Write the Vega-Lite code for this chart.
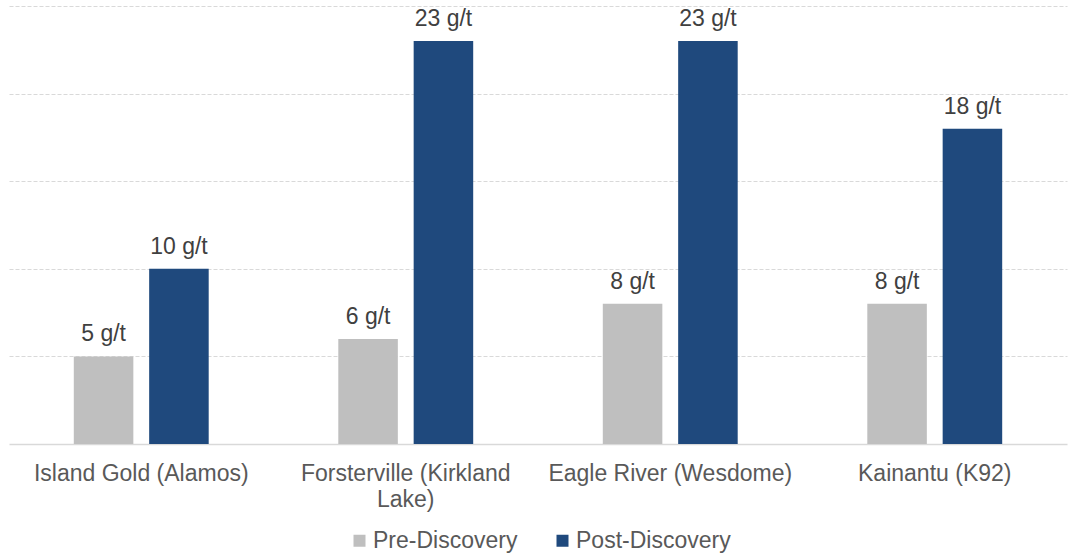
{
  "$schema": "https://vega.github.io/schema/vega-lite/v6.json",
  "width": 1058,
  "height": 438,
  "autosize": {"type": "none"},
  "padding": {"left": 9, "top": 6, "right": 3, "bottom": 111},
  "background": "white",
  "config": {
    "view": {"stroke": null},
    "font": "Liberation Sans",
    "text": {"font": "Liberation Sans"}
  },
  "data": {
    "values": [
      {"mine": "Island Gold (Alamos)", "stage": "Pre-Discovery", "grade": 5, "label": "5 g/t"},
      {"mine": "Island Gold (Alamos)", "stage": "Post-Discovery", "grade": 10, "label": "10 g/t"},
      {"mine": "Forsterville (Kirkland Lake)", "stage": "Pre-Discovery", "grade": 6, "label": "6 g/t"},
      {"mine": "Forsterville (Kirkland Lake)", "stage": "Post-Discovery", "grade": 23, "label": "23 g/t"},
      {"mine": "Eagle River (Wesdome)", "stage": "Pre-Discovery", "grade": 8, "label": "8 g/t"},
      {"mine": "Eagle River (Wesdome)", "stage": "Post-Discovery", "grade": 23, "label": "23 g/t"},
      {"mine": "Kainantu (K92)", "stage": "Pre-Discovery", "grade": 8, "label": "8 g/t"},
      {"mine": "Kainantu (K92)", "stage": "Post-Discovery", "grade": 18, "label": "18 g/t"}
    ]
  },
  "encoding": {
    "x": {
      "field": "mine",
      "type": "nominal",
      "sort": null,
      "scale": {"paddingInner": 0.49, "paddingOuter": 0.245},
      "axis": {
        "title": null,
        "labelAngle": 0,
        "labelFontSize": 23,
        "labelColor": "#595959",
        "labelPadding": 18,
        "labelLineHeight": 26,
        "labelLimit": 400,
        "ticks": false,
        "domainColor": "#d9d9d9",
        "domainWidth": 1.5,
        "labelExpr": "datum.label == 'Forsterville (Kirkland Lake)' ? ['Forsterville (Kirkland', 'Lake)'] : datum.label"
      }
    },
    "xOffset": {
      "field": "stage",
      "type": "nominal",
      "sort": ["Pre-Discovery", "Post-Discovery"],
      "scale": {"paddingInner": 0.21, "paddingOuter": 0}
    },
    "y": {
      "field": "grade",
      "type": "quantitative",
      "scale": {"domain": [0, 25], "nice": false},
      "axis": {
        "title": null,
        "labels": false,
        "ticks": false,
        "domain": false,
        "values": [5, 10, 15, 20, 25],
        "gridColor": "#d9d9d9",
        "gridDash": [4, 2],
        "gridWidth": 1
      }
    }
  },
  "layer": [
    {
      "mark": {"type": "bar"},
      "encoding": {
        "color": {
          "field": "stage",
          "type": "nominal",
          "scale": {"domain": ["Pre-Discovery", "Post-Discovery"], "range": ["#bfbfbf", "#1f497d"]},
          "legend": {
            "title": null,
            "orient": "none",
            "direction": "horizontal",
            "legendX": 339,
            "legendY": 523,
            "symbolType": "square",
            "symbolSize": 144,
            "symbolStrokeWidth": 0,
            "labelFontSize": 23,
            "labelColor": "#595959",
            "labelOffset": 2,
            "columnPadding": 33
          }
        }
      }
    },
    {
      "mark": {"type": "text", "baseline": "alphabetic", "dy": -15, "fontSize": 23, "color": "#404040"},
      "encoding": {
        "text": {"field": "label", "type": "nominal"}
      }
    }
  ]
}
